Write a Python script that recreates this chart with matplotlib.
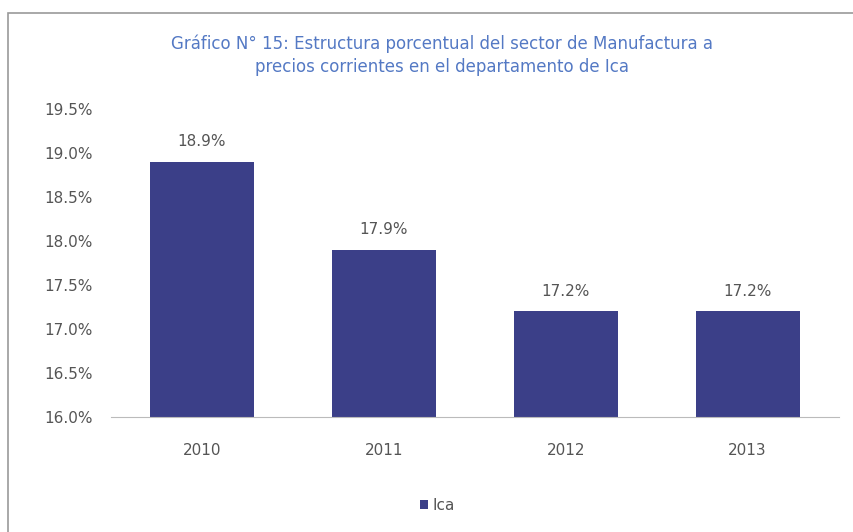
import matplotlib.pyplot as plt
from matplotlib.patches import Rectangle

# data
years = ["2010", "2011", "2012", "2013"]
shares = [18.9, 17.9, 17.2, 17.2]
yticks = [16.0, 16.5, 17.0, 17.5, 18.0, 18.5, 19.0, 19.5]

bar_color = "#3b3f88"
text_color = "#555555"

fig = plt.figure(figsize=(8.54, 5.32), dpi=100)
ax = fig.add_axes([0.130, 0.216, 0.852, 0.579])

# frame around the whole chart
fig.patches.append(Rectangle((8 / 854, -0.1), 1.0, 1 - 13 / 532 + 0.1, transform=fig.transFigure,
                             fill=False, edgecolor="#9a9a9a", linewidth=1.2))

bars = ax.bar(years, shares, width=0.57, color=bar_color, label="Ica")
for b, v in zip(bars, shares):
    ax.annotate(f"{v:.1f}%", (b.get_x() + b.get_width() / 2, v), xytext=(0, 9),
                textcoords="offset points", ha="center", va="bottom", fontsize=11, color=text_color)

ax.set_ylim(16.0, 19.5)
ax.set_xlim(-0.5, 3.5)
ax.set_yticks(yticks)
ax.set_yticklabels([f"{t:.1f}%" for t in yticks])
ax.tick_params(axis="both", length=0, labelsize=11, labelcolor=text_color)
ax.tick_params(axis="y", pad=13)
ax.tick_params(axis="x", pad=19)
for s in ["top", "right", "left"]:
    ax.spines[s].set_visible(False)
ax.spines["bottom"].set_color("#bbbbbb")

fig.text(0.518, 0.896, "Gráfico N° 15: Estructura porcentual del sector de Manufactura a\nprecios corrientes en el departamento de Ica",
         ha="center", va="center", fontsize=12, color="#5479c4", linespacing=1.35)

fig.legend(loc="center", bbox_to_anchor=(0.512, 0.05), frameon=False, fontsize=11,
           handlelength=0.55, handleheight=0.55, handletextpad=0.3, labelcolor=text_color)

fig.savefig("out.png", dpi=100)
